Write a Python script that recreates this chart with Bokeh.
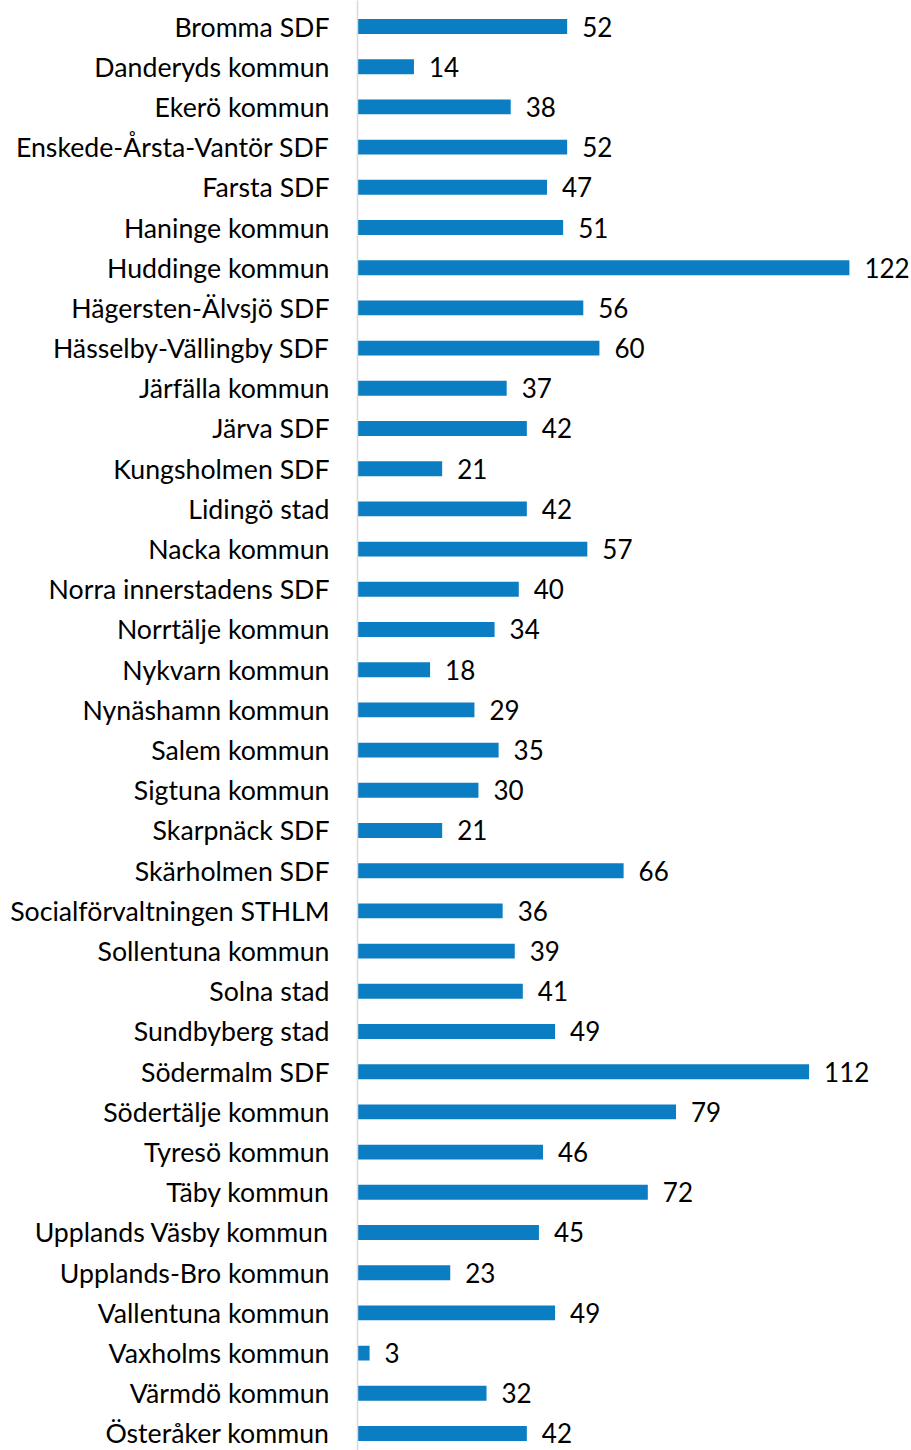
from bokeh.plotting import figure
from bokeh.models import ColumnDataSource, Range1d, FixedTicker, LabelSet
from bokeh.core.properties import value
from bokeh.embed import file_html
from bokeh.resources import INLINE

categories = [
    "Bromma SDF", "Danderyds kommun", "Ekerö kommun", "Enskede-Årsta-Vantör SDF",
    "Farsta SDF", "Haninge kommun", "Huddinge kommun", "Hägersten-Älvsjö SDF",
    "Hässelby-Vällingby SDF", "Järfälla kommun", "Järva SDF", "Kungsholmen SDF",
    "Lidingö stad", "Nacka kommun", "Norra innerstadens SDF", "Norrtälje kommun",
    "Nykvarn kommun", "Nynäshamn kommun", "Salem kommun", "Sigtuna kommun",
    "Skarpnäck SDF", "Skärholmen SDF", "Socialförvaltningen STHLM", "Sollentuna kommun",
    "Solna stad", "Sundbyberg stad", "Södermalm SDF", "Södertälje kommun",
    "Tyresö kommun", "Täby kommun", "Upplands Väsby kommun", "Upplands-Bro kommun",
    "Vallentuna kommun", "Vaxholms kommun", "Värmdö kommun", "Österåker kommun",
]
values = [52, 14, 38, 52, 47, 51, 122, 56, 60, 37, 42, 21, 42, 57, 40, 34, 18, 29,
          35, 30, 21, 66, 36, 39, 41, 49, 112, 79, 46, 72, 45, 23, 49, 3, 32, 42]

FONT = "Lato"
BAR = "#0B7DC2"

idx = list(range(len(categories)))
src = ColumnDataSource(dict(y=idx, v=values, lbl=[str(v) for v in values]))

p = figure(width=911, height=1450, output_backend="svg", toolbar_location=None,
           x_range=Range1d(0, 137.4), y_range=Range1d(35.423, -0.6468),
           x_axis_location=None, min_border_left=357, min_border_right=0,
           min_border_top=0, min_border_bottom=0)
p.outline_line_color = None
p.grid.visible = False
p.background_fill_color = "white"
p.border_fill_color = "white"

p.hbar(y="y", left=0, right="v", height=0.37, source=src, color=BAR, line_color=None)

labels = LabelSet(x="v", y="y", text="lbl", source=src, x_offset=15, y_offset=0,
                  text_align="left", text_baseline="middle", text_font=value(FONT),
                  text_font_size=value("26px"), text_color=value("#000000"))
p.add_layout(labels)

ax = p.yaxis[0]
ax.ticker = FixedTicker(ticks=idx)
ax.major_label_overrides = {i: c for i, c in zip(idx, categories)}
ax.major_label_text_font = FONT
ax.major_label_text_font_size = "26.7px"
ax.major_label_text_color = "#000000"
ax.major_tick_line_color = None
ax.minor_tick_line_color = None
ax.major_tick_out = 0
ax.major_tick_in = 0
ax.major_label_standoff = 28
ax.axis_line_color = "#D9D9D9"
ax.axis_line_width = 1.5

open("out.html", "w").write(file_html(p, INLINE))
